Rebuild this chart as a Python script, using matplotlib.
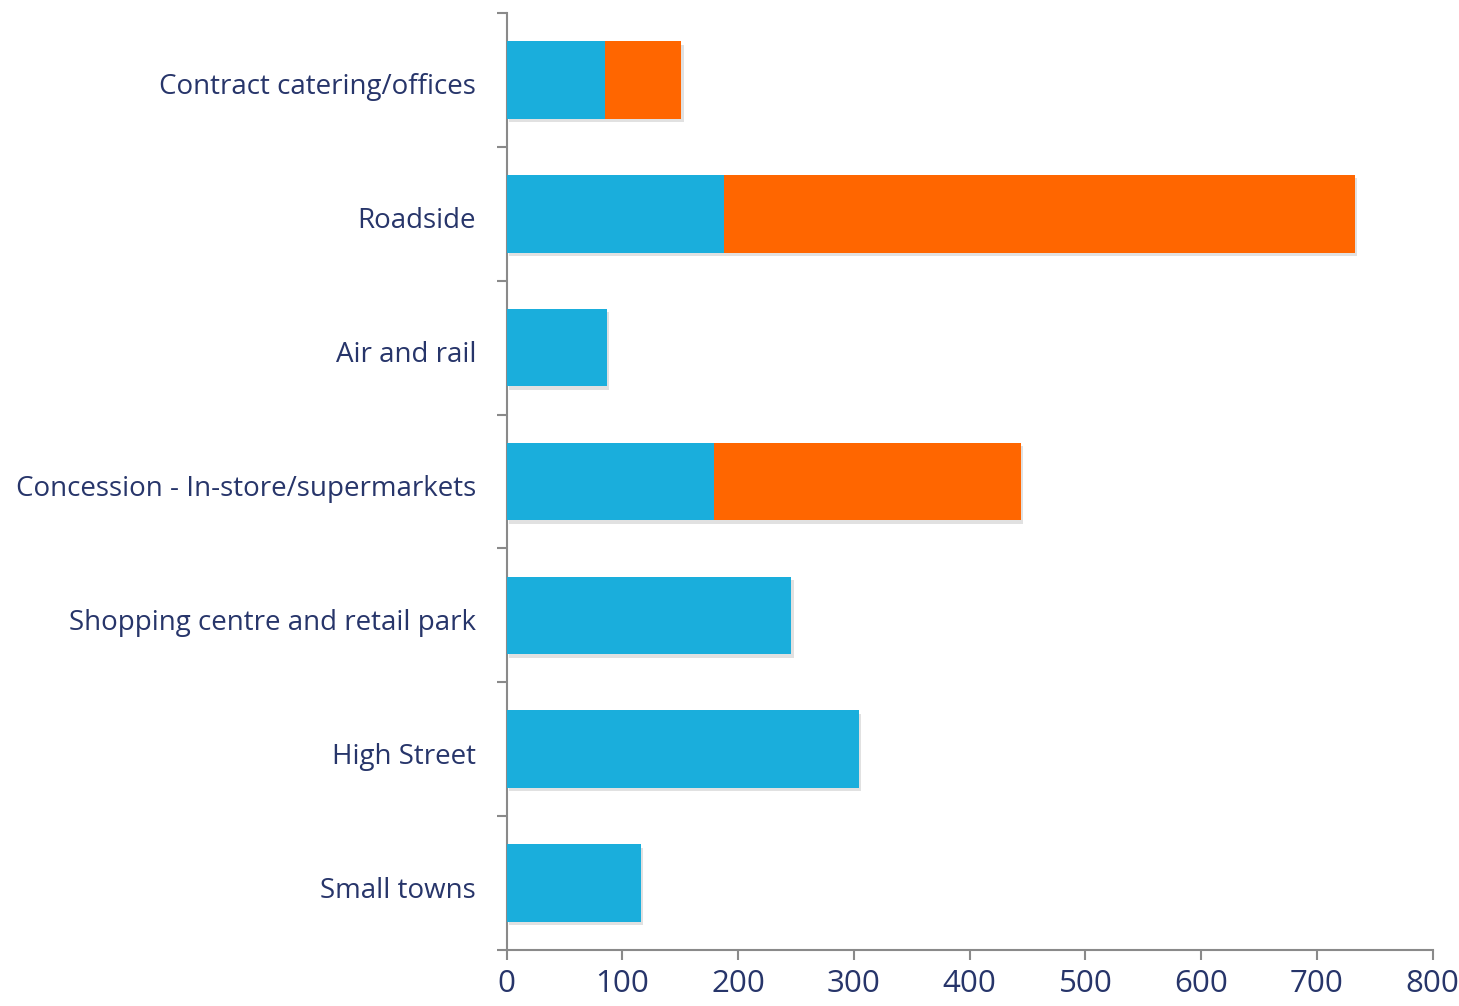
import numpy as np
import matplotlib
matplotlib.use("Agg")
import matplotlib.pyplot as plt
import matplotlib.patheffects as pe
from matplotlib.transforms import ScaledTranslation

categories = ['Contract catering/offices', 'Roadside', 'Air and rail',
              'Concession - In-store/supermarkets', 'Shopping centre and retail park',
              'High Street', 'Small towns']
first_part = [85, 188, 87, 179, 246, 304, 116]
second_part = [66, 545, 0, 265, 0, 0, 0]
x_ticks = [0, 100, 200, 300, 400, 500, 600, 700, 800]

blue = '#1AAEDC'
orange = '#FF6600'
text_col = '#27356A'
axis_col = '#8A8A8A'

plt.rcParams['font.family'] = ['Open Sans', 'DejaVu Sans']

fig = plt.figure(figsize=(14.59, 10.06), dpi=100)
ax = fig.add_axes([0.3473, 0.0557, 0.6347, 0.9313])

y = np.arange(len(categories))
shadow = [pe.SimplePatchShadow(offset=(1.5, -2.5), alpha=0.22, shadow_rgbFace='#777777'), pe.Normal()]
b1 = ax.barh(y, first_part, height=0.58, color=blue, zorder=3)
b2 = ax.barh(y, second_part, left=first_part, height=0.58, color=orange, zorder=3)
for bar in list(b1) + list(b2):
    if bar.get_width() > 0:
        bar.set_path_effects(shadow)

ax.set_ylim(len(categories) - 0.5, -0.5)
ax.set_xlim(0, 800)
ax.set_xticks(x_ticks)
ax.set_xticklabels([str(t) for t in x_ticks])
ax.set_yticks(y)
ax.set_yticklabels(categories)
ax.set_yticks(np.arange(-0.5, len(categories)), minor=True)

for side in ['top', 'right']:
    ax.spines[side].set_visible(False)
for side in ['left', 'bottom']:
    ax.spines[side].set_color(axis_col)
    ax.spines[side].set_linewidth(1.5)

ax.tick_params(axis='y', which='major', length=0, pad=22, labelsize=20, labelcolor=text_col)
ax.tick_params(axis='y', which='minor', length=7, width=1.5, color=axis_col)
ax.tick_params(axis='x', which='major', length=7, width=1.5, color=axis_col,
               pad=7, labelsize=22.5, labelcolor=text_col)

# nudge category labels down a little
shift = ScaledTranslation(0, -4 / 100, fig.dpi_scale_trans)
for lbl in ax.get_yticklabels():
    lbl.set_transform(lbl.get_transform() + shift)

fig.savefig('out.png', dpi=100, facecolor='white')
